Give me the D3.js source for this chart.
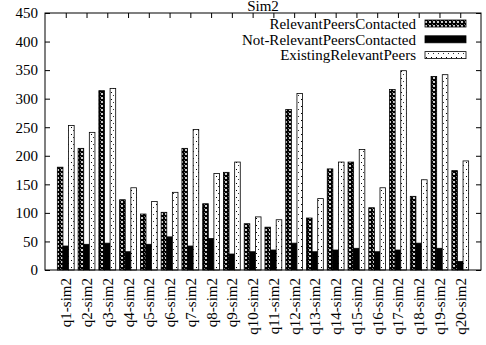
<!DOCTYPE html>
<html><head><meta charset="utf-8">
<script src="https://cdn.jsdelivr.net/npm/d3@7/dist/d3.min.js"></script>
<style>body{margin:0;background:#fff}svg{display:block}</style>
</head><body><svg id="c" width="486" height="345" font-family="Liberation Serif"></svg>
<script>
const categories = ["q1-sim2","q2-sim2","q3-sim2","q4-sim2","q5-sim2","q6-sim2","q7-sim2","q8-sim2","q9-sim2","q10-sim2","q11-sim2","q12-sim2","q13-sim2","q14-sim2","q15-sim2","q16-sim2","q17-sim2","q18-sim2","q19-sim2","q20-sim2"];
const seriesNames = ["RelevantPeersContacted","Not-RelevantPeersContacted","ExistingRelevantPeers"];
const relevantPeersContacted = [180,213,314,123,98,101,213,116,171,81,75,281,91,177,189,109,316,129,339,174];
const notRelevantPeersContacted = [42,45,47,32,45,58,42,55,28,32,35,47,32,35,38,32,35,47,38,15];
const existingRelevantPeers = [253,241,318,144,120,136,246,169,189,93,88,309,125,189,211,144,349,158,342,191];
const yTicks = [0,50,100,150,200,250,300,350,400,450];
const title = "Sim2";

const FS = 15;
const svg = d3.select("#c");
const L=45,R=481,T=13,B=270;
const x = d3.scaleLinear().domain([0,categories.length+1]).range([L,R]);
const y = d3.scaleLinear().domain([0,450]).range([B,T]);
const defs = svg.append("defs");
const p1 = defs.append("pattern").attr("id","pRel").attr("patternUnits","userSpaceOnUse").attr("width",4).attr("height",4);
p1.append("rect").attr("width",4).attr("height",4).attr("fill","#000");
p1.append("circle").attr("cx",2).attr("cy",2).attr("r",1.1).attr("fill","#fff");
p1.append("rect").attr("x",0).attr("y",0).attr("width",1).attr("height",1).attr("fill","#777");
const p3 = defs.append("pattern").attr("id","pExi").attr("patternUnits","userSpaceOnUse").attr("width",5).attr("height",7);
p3.append("rect").attr("width",5).attr("height",7).attr("fill","#fff");
p3.append("rect").attr("x",1).attr("y",1).attr("width",1).attr("height",1).attr("fill","#000");
p3.append("rect").attr("x",3).attr("y",4).attr("width",1).attr("height",1).attr("fill","#333");
const fills = ["url(#pRel)","#000","url(#pExi)"];
const data = [relevantPeersContacted, notRelevantPeersContacted, existingRelevantPeers];
const bw = 0.27;
data.forEach((vals,s)=>{
  svg.append("g").selectAll("rect").data(vals).join("rect")
    .attr("x",(d,i)=>x(i+1+(s-1.5)*bw))
    .attr("width",x(bw)-x(0))
    .attr("y",d=>y(d)).attr("height",d=>y(0)-y(d))
    .attr("fill",fills[s]).attr("stroke","#000").attr("stroke-width",0.8);
});
// frame
svg.append("rect").attr("x",L).attr("y",T).attr("width",R-L).attr("height",B-T).attr("fill","none").attr("stroke","#000").attr("stroke-width",1);
// y axis
const ya = d3.axisLeft(y).tickValues(yTicks).tickSizeInner(-5).tickSizeOuter(0).tickPadding(7);
const yg = svg.append("g").attr("transform",`translate(${L},0)`).call(ya);
yg.select(".domain").remove();
const yr = d3.axisRight(y).tickValues(yTicks).tickSizeInner(-5).tickSizeOuter(0).tickFormat("");
const yrg = svg.append("g").attr("transform",`translate(${R},0)`).call(yr);
yrg.select(".domain").remove();
// x axis
const xb = d3.axisBottom(x).tickValues(d3.range(1,categories.length+1)).tickFormat(d=>categories[d-1]).tickSizeInner(-5).tickSizeOuter(0);
const xg = svg.append("g").attr("transform",`translate(0,${B})`).call(xb);
xg.select(".domain").remove();
xg.selectAll("text").attr("transform","rotate(-90)").attr("text-anchor","end").attr("x",-8).attr("y",0).attr("dy","0.33em");
const xt = d3.axisTop(x).tickValues(d3.range(1,categories.length+1)).tickFormat("").tickSizeInner(-5).tickSizeOuter(0);
const xtg = svg.append("g").attr("transform",`translate(0,${T})`).call(xt);
xtg.select(".domain").remove();
svg.selectAll(".tick line").attr("stroke","#000");
// title
svg.append("text").attr("x",(L+R)/2).attr("y",11).attr("text-anchor","middle").text(title);
// legend
const lg = svg.append("g");
seriesNames.forEach((n,i)=>{
  const cy = 23.5 + i*15.8;
  lg.append("text").attr("x",416).attr("y",cy).attr("dy","0.35em").attr("text-anchor","end").text(n);
  lg.append("rect").attr("x",425).attr("y",cy-3.5).attr("width",41).attr("height",7).attr("fill",fills[i]).attr("stroke","#000").attr("stroke-width",0.8);
});
svg.selectAll("g").attr("font-family",null).attr("font-size",null);
svg.selectAll("text").attr("font-family","Liberation Serif").attr("font-size",FS).attr("fill","#000");
</script></body></html>
